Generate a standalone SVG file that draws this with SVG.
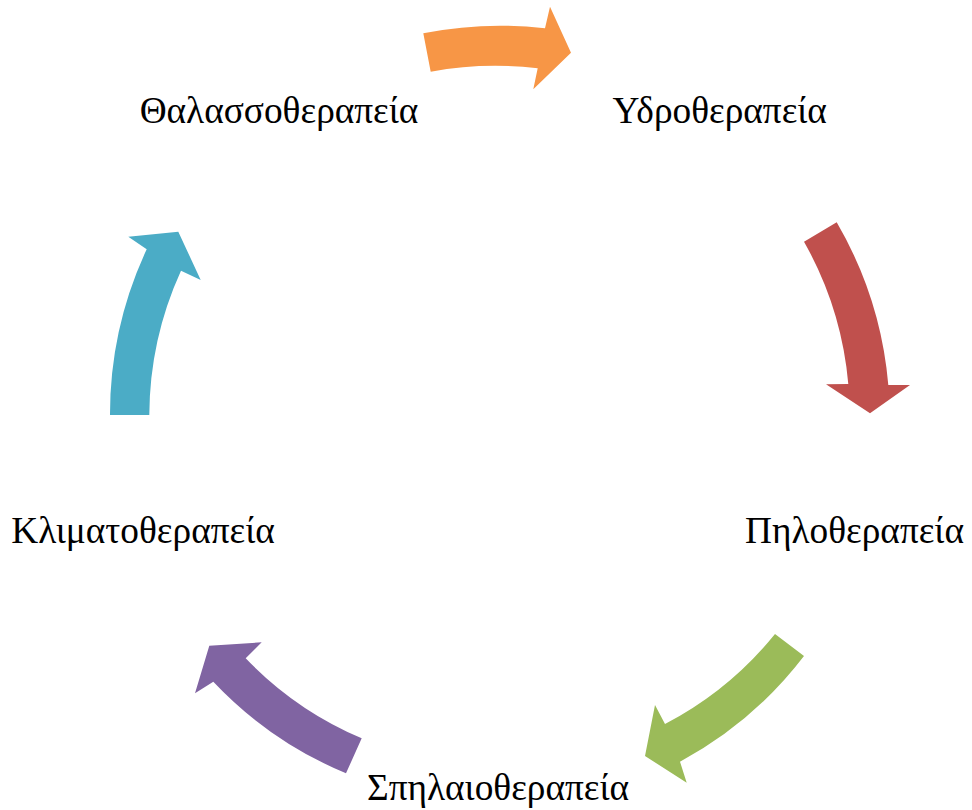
<svg xmlns="http://www.w3.org/2000/svg" width="972" height="810" viewBox="0 0 972 810">
<style>
.lbl{font-family:"Liberation Serif","Times New Roman",serif;font-size:37.3px;fill:#000;text-anchor:middle}
</style>
<rect width="972" height="810" fill="#fff"/>
<g id="connectors">
<path id="a1" fill="#F79646" d="M423.3,33.3 A392 392 0 0 1 545,28.3 L550,6.7 L571,52.7 L533.3,89.3 L537.7,68.3 A352.5 352.5 0 0 0 430.7,71.7 Z"/>
<path id="a2" fill="#C0504D" d="M836.7,222.3 A389.5 389.5 0 0 1 888.3,385 L910,385 L870,413.3 L826,384.3 L848.3,384 A351 351 0 0 0 804,241.7 Z"/>
<path id="a3" fill="#9BBB59" d="M804,656 A387 387 0 0 1 680,761.7 L686.7,782.7 L645,756 L655,705 L665,724 A349 349 0 0 0 775,634 Z"/>
<path id="a4" fill="#8064A2" d="M346,773.3 A388 388 0 0 1 213.3,681.7 L195,693.3 L209.3,645.7 L261.7,642.3 L245.7,658.3 A349.5 349.5 0 0 0 361.7,738.3 Z"/>
<path id="a5" fill="#4BACC6" d="M110,415 A390 390 0 0 1 146.7,249.3 L128.3,236.7 L178.3,231.7 L200.7,280 L181,270.7 A351 351 0 0 0 149.3,415 Z"/>
</g>
<g id="n1"><text class="lbl" x="719.7" y="123">Υδροθεραπεία</text></g>
<g id="n2"><text class="lbl" x="854.5" y="543">Πηλοθεραπεία</text></g>
<g id="n3"><text class="lbl" x="498" y="799.5">Σπηλαιοθεραπεία</text></g>
<g id="n4"><text class="lbl" x="143" y="543">Κλιματοθεραπεία</text></g>
<g id="n5"><text class="lbl" x="279" y="123">Θαλασσοθεραπεία</text></g>
</svg>
